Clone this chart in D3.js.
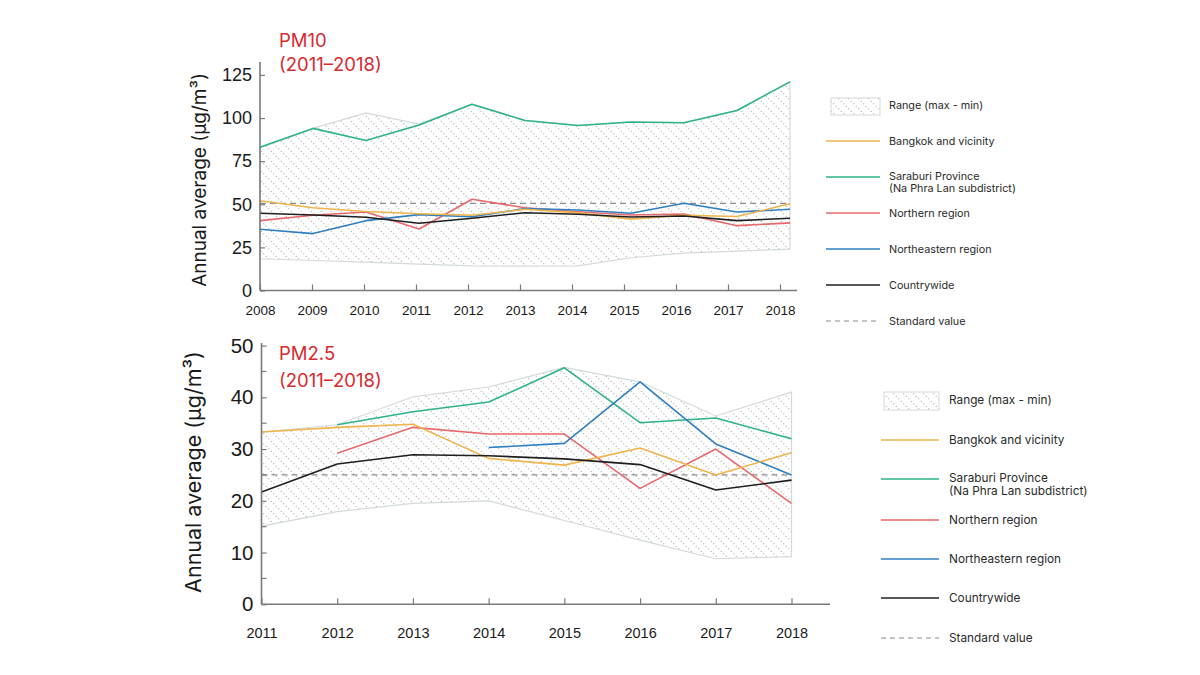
<!DOCTYPE html>
<html>
<head>
<meta charset="utf-8">
<script src="https://cdn.jsdelivr.net/npm/d3@7"></script>
<style>
  html, body { margin: 0; padding: 0; background: #fff; }
  svg { display: block; font-family: Inter, "Open Sans", sans-serif; }
</style>
</head>
<body>
<svg id="chart" width="1200" height="675"></svg>
<script>
// ---------- PM10 data (2008–2018) ----------
const pm10Years = [2008, 2009, 2010, 2011, 2012, 2013, 2014, 2015, 2016, 2017, 2018];
const pm10Max = [83, 94, 103, 96.5, 108, 98.6, 95.7, 97.7, 97.3, 104.4, 121];
const pm10Min = [18.4, 17.4, 16.4, 15.3, 14.3, 14.1, 14.3, 19, 21.7, 22.8, 24];
const pm10Bangkok = [52, 48, 45.8, 44.5, 43.6, 47.1, 45, 41.4, 43.6, 42.9, 50.3];
const pm10Saraburi = [83, 94, 87, 96, 108, 98.6, 95.7, 97.7, 97.3, 104.4, 121];
const pm10Northern = [40.5, 43.6, 45.5, 35.7, 52.9, 48, 45.7, 43.8, 44.4, 37.6, 39.2];
const pm10Northeastern = [35.5, 33, 40.5, 44, 42.8, 47.5, 46.7, 44.8, 50.6, 45.5, 47.1];
const pm10Countrywide = [44.8, 43.8, 42.5, 39, 41.9, 45.1, 44.2, 42.6, 43.2, 40.5, 41.9];
const pm10Standard = 50.5;
const pm10YTicks = [0, 25, 50, 75, 100, 125];

// ---------- PM2.5 data (2011–2018) ----------
const pm25Years = [2011, 2012, 2013, 2014, 2015, 2016, 2017, 2018];
const pm25Max = [33.3, 34.7, 40.1, 42, 45.8, 43, 36.4, 41];
const pm25Min = [15.1, 17.9, 19.5, 20, 16.2, 12.4, 8.8, 9.2];
const pm25Bangkok = [33.3, 34.2, 34.8, 28.2, 26.9, 30.2, 25, 29.3];
const pm25Saraburi = [null, 34.7, 37.2, 39.1, 45.7, 35.1, 36, 32];
const pm25Northern = [null, 29.2, 34.2, 32.9, 32.9, 22.4, 30, 19.5];
const pm25Northeastern = [null, null, null, 30.3, 31.1, 43, 31, 25];
const pm25Countrywide = [21.7, 27.1, 28.9, 28.7, 28.1, 27, 22.1, 24];
const pm25Standard = 25;
const pm25YTicks = [0, 10, 20, 30, 40, 50];
const pm25YMinorTicks = [5, 15, 25, 35, 45];

// ---------- Legend ----------
const legendLabels = [
  ["Range (max - min)"],
  ["Bangkok and vicinity"],
  ["Saraburi Province", "(Na Phra Lan subdistrict)"],
  ["Northern region"],
  ["Northeastern region"],
  ["Countrywide"],
  ["Standard value"]
];

const colors = {
  bangkok: "#efb44c",
  saraburi: "#2db38a",
  northern: "#e8686c",
  northeastern: "#2f7fc0",
  countrywide: "#1f1f1f"
};
const titleColor = "#d72a2f";
const axisColor = "#7a7a7a";
const rangeStroke = "#d3dada";

const svg = d3.select("#chart");

// Hatch pattern for range area: diagonal dotted lines
const defs = svg.append("defs");
const pat = defs.append("pattern")
  .attr("id", "hatch")
  .attr("patternUnits", "userSpaceOnUse")
  .attr("width", 10).attr("height", 10);
[[1.25, 1.25], [3.75, 3.75], [6.25, 6.25], [8.75, 8.75]].forEach(([cx, cy]) => {
  pat.append("circle").attr("cx", cx).attr("cy", cy).attr("r", 0.6).attr("fill", "#8f8f8f");
});

function drawPanel(cfg) {
  const g = svg.append("g");
  const x = d3.scalePoint().domain(cfg.years).range(cfg.dataX);
  const xt = d3.scalePoint().domain(cfg.years).range(cfg.tickX);
  const y = d3.scaleLinear().domain(cfg.yDomain).range(cfg.yRange);

  // Range area
  const areaData = cfg.years.map((yr, i) => ({ yr, lo: cfg.min[i], hi: cfg.max[i] }));
  g.append("path")
    .datum(areaData)
    .attr("d", d3.area().x(d => x(d.yr)).y0(d => y(d.lo)).y1(d => y(d.hi)))
    .attr("fill", "url(#hatch)")
    .attr("stroke", rangeStroke)
    .attr("stroke-width", 1.2);

  // Standard line
  g.append("line")
    .attr("x1", cfg.dataX[0]).attr("x2", cfg.dataX[1])
    .attr("y1", y(cfg.standard)).attr("y2", y(cfg.standard))
    .attr("stroke", "#8c8c8c").attr("stroke-width", 1.2)
    .attr("stroke-dasharray", "6,4");

  // Series
  const line = d3.line().defined(d => d.v != null).x(d => x(d.yr)).y(d => y(d.v));
  cfg.series.forEach(s => {
    g.append("path")
      .datum(cfg.years.map((yr, i) => ({ yr, v: s.values[i] })))
      .attr("d", line)
      .attr("fill", "none")
      .attr("stroke", s.color)
      .attr("stroke-width", s.width || 1.6)
      .attr("stroke-linejoin", "round");
  });

  // Axes
  const xAxis = d3.axisBottom(xt).tickSize(-6).tickPadding(cfg.xPad).tickFormat(d3.format("d"));
  const gx = g.append("g").attr("transform", `translate(0,${cfg.yRange[0]})`).call(xAxis);
  gx.select(".domain").remove();
  gx.selectAll(".tick line").attr("stroke", axisColor).attr("stroke-width", 1.2);
  gx.selectAll(".tick text").attr("font-size", cfg.xFont).attr("font-weight", 500).attr("fill", "#1a1a1a");

  const yAxis = d3.axisLeft(y).tickValues(cfg.yTicks).tickSize(-5).tickPadding(8);
  const gy = g.append("g").attr("transform", `translate(${cfg.dataX[0]},0)`).call(yAxis);
  gy.select(".domain").remove();
  gy.selectAll(".tick line").attr("stroke", axisColor).attr("stroke-width", 1.2);
  gy.selectAll(".tick text").attr("font-size", cfg.yFont).attr("font-weight", 500).attr("fill", "#1a1a1a");
  if (cfg.minorTicks) {
    gy.selectAll(".minor").data(cfg.minorTicks).enter().append("line")
      .attr("x1", 0).attr("x2", 5)
      .attr("y1", d => y(d)).attr("y2", d => y(d))
      .attr("stroke", axisColor).attr("stroke-width", 1.2);
  }

  // Axis lines
  g.append("line")
    .attr("x1", cfg.dataX[0]).attr("x2", cfg.dataX[0])
    .attr("y1", cfg.yRange[0]).attr("y2", cfg.yRange[1])
    .attr("stroke", axisColor).attr("stroke-width", 1.6);
  g.append("line")
    .attr("x1", cfg.dataX[0]).attr("x2", cfg.xAxisEnd)
    .attr("y1", cfg.yRange[0]).attr("y2", cfg.yRange[0])
    .attr("stroke", axisColor).attr("stroke-width", 1.6);

  // Y title
  g.append("text")
    .attr("transform", `translate(${cfg.yTitle[0]},${cfg.yTitle[1]}) rotate(-90)`)
    .attr("text-anchor", "middle")
    .attr("dominant-baseline", "central")
    .attr("font-size", cfg.yTitleFont)
    .attr("fill", "#1a1a1a")
    .text("Annual average (µg/m³)");

  // Panel title
  cfg.title.forEach((t, i) => {
    g.append("text")
      .attr("x", cfg.titlePos[0]).attr("y", cfg.titlePos[1] + i * cfg.titleGap)
      .attr("font-size", 18.5).attr("fill", titleColor)
      .text(t);
  });

  // Legend
  const L = cfg.legend;
  const lg = g.append("g");
  lg.append("rect")
    .attr("x", L.rectX).attr("y", L.rectY).attr("width", L.rectW).attr("height", L.rectH)
    .attr("fill", "url(#hatch)").attr("stroke", rangeStroke).attr("stroke-width", 1);
  const lineColors = [colors.bangkok, colors.saraburi, colors.northern, colors.northeastern, colors.countrywide];
  legendLabels.forEach((lab, i) => {
    const yy = L.ys[i];
    if (i >= 1 && i <= 5) {
      lg.append("line").attr("x1", L.lineX[0]).attr("x2", L.lineX[1])
        .attr("y1", yy).attr("y2", yy).attr("stroke", lineColors[i - 1]).attr("stroke-width", 1.3);
    } else if (i === 6) {
      lg.append("line").attr("x1", L.lineX[0]).attr("x2", L.lineX[1])
        .attr("y1", yy).attr("y2", yy).attr("stroke", "#8c8c8c").attr("stroke-width", 1.1)
        .attr("stroke-dasharray", "5,4");
    }
    lab.forEach((t, j) => {
      lg.append("text")
        .attr("x", L.textX).attr("y", yy + j * L.lineGap + (i === 2 ? -1 : 0))
        .attr("dominant-baseline", "central")
        .attr("font-size", L.font).attr("fill", "#2a2a2a")
        .text(t);
    });
  });
}

drawPanel({
  years: pm10Years,
  dataX: [260, 790],
  tickX: [260, 780],
  xAxisEnd: 797,
  yDomain: [0, 132.5],
  yRange: [290.5, 62],
  yTicks: pm10YTicks,
  yFont: 18,
  xFont: 13.5,
  xPad: 15,
  max: pm10Max, min: pm10Min,
  standard: pm10Standard,
  series: [
    { values: pm10Saraburi, color: colors.saraburi },
    { values: pm10Northern, color: colors.northern },
    { values: pm10Northeastern, color: colors.northeastern },
    { values: pm10Bangkok, color: colors.bangkok },
    { values: pm10Countrywide, color: colors.countrywide }
  ],
  yTitle: [199, 180],
  yTitleFont: 19,
  title: ["PM10", "(2011–2018)"],
  titlePos: [279, 47],
  titleGap: 24,
  legend: {
    rectX: 831, rectY: 98, rectW: 49, rectH: 17,
    lineX: [826, 880], textX: 889, font: 10.8, lineGap: 12.5,
    ys: [105, 141, 177, 213, 249, 285, 321]
  }
});

drawPanel({
  years: pm25Years,
  dataX: [261.5, 791.5],
  tickX: [261.5, 791.5],
  xAxisEnd: 830,
  yDomain: [0, 50.5],
  yRange: [604.3, 343],
  yTicks: pm25YTicks,
  minorTicks: pm25YMinorTicks,
  yFont: 20.5,
  xFont: 14.5,
  xPad: 23,
  max: pm25Max, min: pm25Min,
  standard: pm25Standard,
  series: [
    { values: pm25Saraburi, color: colors.saraburi },
    { values: pm25Northern, color: colors.northern },
    { values: pm25Northeastern, color: colors.northeastern },
    { values: pm25Bangkok, color: colors.bangkok },
    { values: pm25Countrywide, color: colors.countrywide }
  ],
  yTitle: [193, 472],
  yTitleFont: 21.5,
  title: ["PM2.5", "(2011–2018)"],
  titlePos: [279, 360],
  titleGap: 27,
  legend: {
    rectX: 884, rectY: 392, rectW: 55, rectH: 18,
    lineX: [881, 939], textX: 949, font: 11.8, lineGap: 13,
    ys: [400, 440, 479, 520, 559, 598, 638]
  }
});
</script>
</body>
</html>
